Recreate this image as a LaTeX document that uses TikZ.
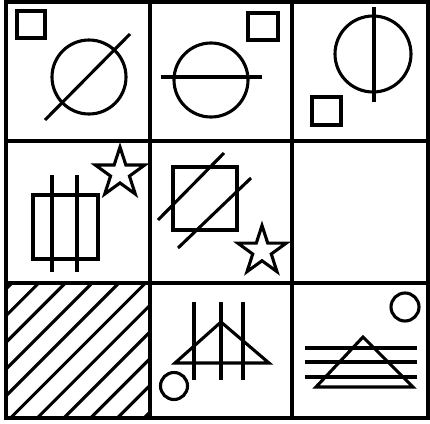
\documentclass[tikz,border=0pt]{standalone}
\tikzset{
  fig/.style={line width=3.1pt},
  gridline/.style={line width=3.3pt},
  starfig/.pic={\draw[fig,line join=miter] (-90:1) -- (-54:0.382) -- (-18:1) -- (18:0.382) -- (54:1) -- (90:0.382) -- (126:1) -- (162:0.382) -- (198:1) -- (234:0.382) -- cycle;}
}
\begin{document}
\begin{tikzpicture}[x=1pt,y=-1pt]
\useasboundingbox (0,0) rectangle (430,423);
\fill[white] (0,0) rectangle (430,423);
% grid
\draw[gridline] (6,2) rectangle (428,418);
\draw[gridline] (150,2) -- (150,418) (292,2) -- (292,418) (6,141) -- (428,141) (6,283) -- (428,283);
% cell 1,1
\draw[fig] (17,11) rectangle (45,38);
\draw[fig] (89,77) circle [radius=37pt];
\draw[fig] (45,120) -- (130,34);
% cell 1,2
\draw[fig] (248,13) rectangle (278,40);
\draw[fig] (211,80) circle [radius=37pt];
\draw[fig] (161,77) -- (262,77);
% cell 1,3
\draw[fig] (373,54) circle [radius=38pt];
\draw[fig] (374,7) -- (374,102);
\draw[fig] (312,97) rectangle (341,125);
% cell 2,1
\pic[scale=26] at (120,173) {starfig};
\draw[fig] (33,195) rectangle (98,259);
\draw[fig] (52,175) -- (52,272) (77,175) -- (77,272);
% cell 2,2
\draw[fig] (173,167) rectangle (237,230);
\draw[fig] (158,220) -- (224,153) (178,248) -- (251,178);
\pic[scale=25.5] at (262,251) {starfig};
% cell 3,1 hatch
\begin{scope}
\clip (6,283) rectangle (150,418);
\foreach \k in {0,...,10}{
  \pgfmathsetmacro{\d}{6+26.7*\k}
  \draw[fig] (6+\d,283) -- (6,283+\d);
}
\end{scope}
% cell 3,2
\draw[fig,line join=miter] (221,322) -- (175,363) -- (269,363) -- cycle;
\draw[fig] (194,302) -- (194,380) (221,302) -- (221,380) (243,302) -- (243,380);
\draw[fig] (174,386) circle [radius=13.5pt];
% cell 3,3
\draw[fig] (405,307) circle [radius=14pt];
\draw[fig,line join=miter] (363,337) -- (316,387) -- (413,387) -- cycle;
\draw[fig] (305,348) -- (417,348) (305,362) -- (417,362) (305,377) -- (417,377);
\end{tikzpicture}
\end{document}
